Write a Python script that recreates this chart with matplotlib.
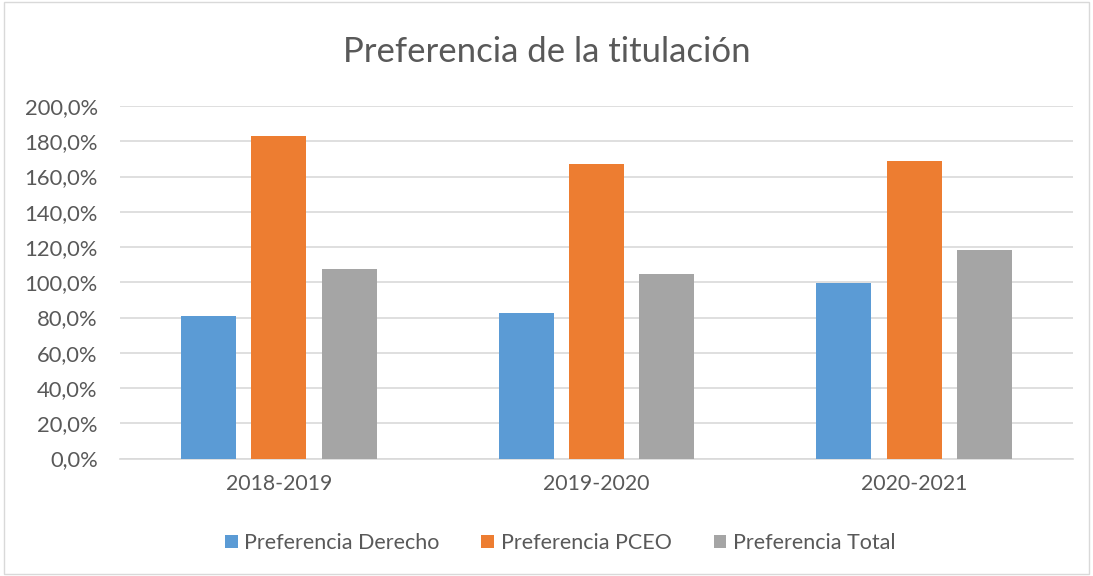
import numpy as np, matplotlib
matplotlib.use('Agg')
import matplotlib.pyplot as plt
from matplotlib.patches import Rectangle

plt.rcParams['font.family'] = ['Lato', 'DejaVu Sans']

cursos = ['2018-2019', '2019-2020', '2020-2021']
derecho = [80.8, 82.4, 99.6]
pceo = [183.1, 167.2, 169.0]
total = [107.6, 104.9, 118.2]
series = ['Preferencia Derecho', 'Preferencia PCEO', 'Preferencia Total']
colores = ['#5B9BD5', '#ED7D31', '#A5A5A5']
txt = '#595959'

fig = plt.figure(figsize=(10.93, 5.76), dpi=100)
fig.patches.append(Rectangle((0.004, 0.004), 0.992, 0.992, transform=fig.transFigure,
                             fill=False, edgecolor='#d9d9d9', lw=1))
ax = fig.add_axes([120/1093, 1-458.5/576, (1073-120)/1093, (458.5-106)/576])

x = np.arange(len(cursos))
w, step = 0.173, 0.221
for i, (vals, name, c) in enumerate(zip([derecho, pceo, total], series, colores)):
    ax.bar(x + (i-1)*step, vals, width=w, color=c, label=name, zorder=3)

ax.set_xlim(-0.5, 2.5)
ax.set_ylim(0, 200)
ax.set_yticks(np.arange(0, 201, 20))
ax.set_yticklabels([f'{v},0%' for v in range(0, 201, 20)])
ax.set_xticks(x)
ax.set_xticklabels(cursos)
ax.grid(axis='y', color='#d9d9d9', lw=1.2, zorder=0)
for s in ['top', 'right', 'left']:
    ax.spines[s].set_visible(False)
ax.spines['bottom'].set_color('#d9d9d9')
ax.spines['bottom'].set_linewidth(1.2)
ax.tick_params(axis='y', length=0, labelsize=15.8, colors=txt, pad=16)
ax.tick_params(axis='x', length=0, labelsize=15.3, colors=txt, pad=11)

fig.text(0.5, 1-52/576, 'Preferencia de la titulación', ha='center', va='center',
         fontsize=25, color=txt)
fig.legend(loc='center', bbox_to_anchor=(560/1093, 1-543/576), ncol=3, frameon=False,
           fontsize=15.5, labelcolor=txt, handlelength=0.6, handleheight=0.6,
           handletextpad=0.3, columnspacing=1.95)

fig.savefig('out.png', dpi=100)
